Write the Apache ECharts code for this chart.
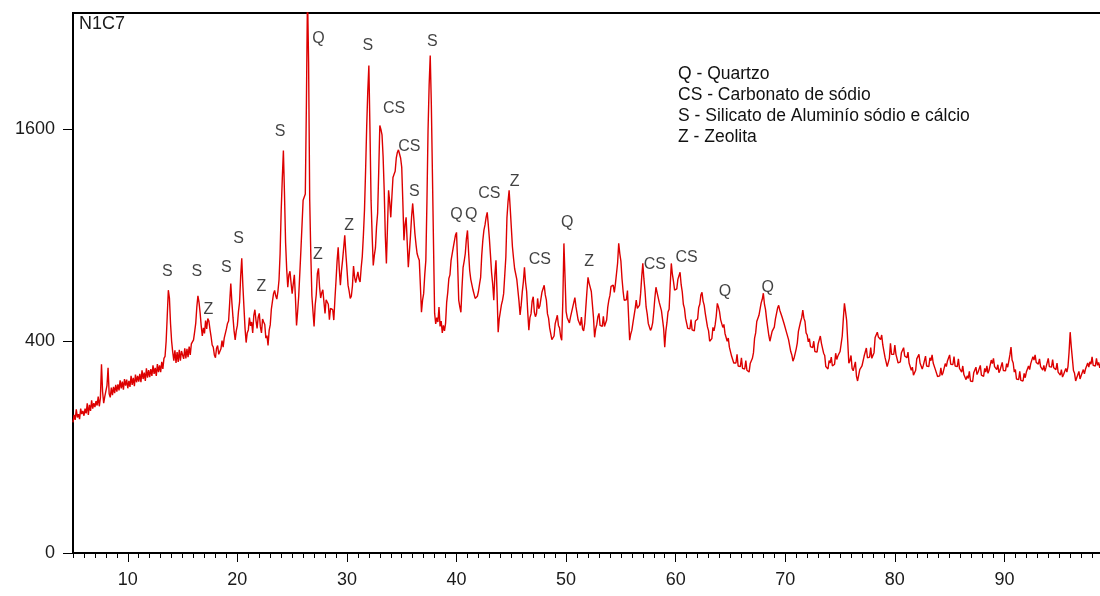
<!DOCTYPE html>
<html><head><meta charset="utf-8">
<script src="https://cdn.jsdelivr.net/npm/echarts@6/dist/echarts.min.js"></script>
<style>html,body{margin:0;padding:0;background:#fff}#c{width:1100px;height:596px}</style>
</head><body><div id="c"></div>
<script>
// ---- data ----
const sampleName = 'N1C7';
const scanStart = 5.0;   // 2θ (°) of first sample
const scanStep = 0.1;    // 2θ step (°)
// one row per degree: x.0 ... x.9
const counts = [
  152,170,158,184,164,172,160,186,172,180,   // 5
  168,186,174,200,170,196,180,208,186,200,   // 6
  190,206,194,218,192,214,318,232,200,218,   // 7
  214,250,306,226,216,244,222,246,228,252,   // 8
  232,254,236,266,242,262,238,270,250,268,   // 9
  242,264,246,280,252,274,248,284,260,280,   // 10
  262,286,260,298,270,290,264,304,274,298,   // 11
  276,302,280,314,286,306,280,318,292,314,   // 12
  292,326,302,338,345,400,500,616,580,470,   // 13
  400,360,330,366,322,360,326,368,330,364,   // 14
  368,336,374,338,372,342,380,350,390,386,   // 15
  405,436,470,540,590,560,515,460,420,452,   // 16
  430,482,448,490,480,446,418,386,378,350,   // 17
  340,374,384,352,362,372,402,378,412,414,   // 18
  448,470,480,560,648,560,495,440,405,440,   // 19
  462,520,560,680,775,640,540,450,395,432,   // 20
  444,494,460,476,432,504,528,482,450,496,   // 21
  512,456,432,488,476,466,412,422,384,442,   // 22
  464,530,565,600,615,590,575,610,665,800,   // 23
  1050,1250,1445,1150,860,720,630,690,708,650,   // 24
  600,646,690,580,462,520,590,700,820,960,   // 25
  1110,1120,1150,1800,2800,2150,1120,800,590,520,   // 26
  458,548,596,696,723,632,580,604,618,562,   // 27
  512,572,574,552,486,534,540,528,484,572,   // 28
  660,760,833,720,640,710,764,830,900,800,   // 29
  720,640,612,578,588,636,735,678,652,658,   // 30
  705,670,655,726,785,900,1047,1300,1615,1900,   // 31
  2120,1600,1109,900,738,790,830,950,1030,1300,   // 32
  1630,1600,1560,1400,1173,900,748,950,1173,1100,   // 33
  1005,1130,1258,1280,1300,1390,1431,1450,1420,1390,   // 34
  1326,1100,872,960,1005,860,728,810,900,1010,   // 35
  1090,1000,911,850,800,780,764,640,517,570,   // 36
  600,690,764,1100,1593,1950,2207,1800,1285,850,   // 37
  513,468,494,476,540,458,480,432,462,440,   // 38
  470,560,606,672,690,762,772,832,842,900,   // 39
  917,750,570,540,517,630,728,760,800,880,   // 40
  928,808,712,668,660,618,614,578,582,588,   // 41
  610,645,678,790,872,930,960,1005,1035,960,   // 42
  880,790,700,645,570,690,764,600,435,490,   // 43
  520,550,570,600,602,780,1000,1100,1173,1060,   // 44
  946,838,776,722,712,668,660,566,506,548,   // 45
  608,656,728,654,610,516,443,494,510,566,   // 46
  586,518,498,512,578,532,544,548,608,612,   // 47
  639,594,570,510,492,452,448,406,400,420,   // 48
  468,476,504,462,452,418,404,565,855,680,   // 49
  520,494,502,472,496,492,538,532,582,540,   // 50
  540,484,476,462,496,448,440,470,538,610,   // 51
  678,650,648,610,610,494,415,448,466,498,   // 52
  512,462,462,458,500,458,466,484,538,570,   // 53
  592,634,640,640,606,646,648,750,855,800,   // 54
  760,672,612,570,564,572,614,500,404,428,   // 55
  443,472,464,532,570,534,528,548,600,680,   // 56
  748,670,612,540,510,470,464,442,452,472,   // 57
  520,580,630,606,610,560,552,524,526,450,   // 58
  378,438,472,518,530,640,748,692,658,616,   // 59
  610,622,668,672,703,642,608,552,534,492,   // 60
  490,450,452,448,486,444,440,440,480,474,   // 61
  488,538,552,594,606,566,548,512,504,456,   // 62
  440,400,402,410,454,440,464,500,556,540,   // 63
  520,486,480,454,466,430,430,400,412,378,   // 64
  378,346,350,322,326,322,352,312,306,310,   // 65
  340,304,304,302,330,298,292,292,320,314,   // 66
  338,358,412,432,478,478,504,512,558,574,   // 67
  602,552,528,486,480,422,400,404,438,438,   // 68
  455,488,490,535,547,526,530,498,506,468,   // 69
  470,436,440,406,408,362,350,328,338,342,   // 70
  372,394,438,444,478,494,526,492,478,432,   // 71
  424,398,410,380,384,376,400,362,360,360,   // 72
  390,390,420,392,396,356,348,310,304,302,   // 73
  330,322,342,312,312,318,356,334,346,342,   // 74
  362,390,420,490,556,520,483,400,321,330,   // 75
  348,304,296,298,326,278,264,266,300,294,   // 76
  312,314,346,344,375,340,338,342,376,338,   // 77
  332,358,414,412,435,416,420,406,424,386,   // 78
  380,342,338,310,316,338,392,352,348,352,   // 79
  386,352,352,322,324,326,358,352,376,346,   // 80
  350,340,360,322,320,298,308,282,290,298,   // 81
  336,330,352,322,324,302,314,314,346,312,   // 82
  312,310,340,330,350,322,328,300,304,278,   // 83
  282,280,306,282,290,290,320,310,329,324,   // 84
  350,318,320,317,344,312,314,310,336,304,   // 85
  304,292,312,284,288,268,280,272,294,264,   // 86
  264,262,290,284,308,284,292,288,314,282,   // 87
  284,278,304,292,312,288,298,300,332,320,   // 88
  338,310,314,300,316,290,298,296,324,297,   // 89
  300,296,320,308,328,350,378,332,322,292,   // 90
  300,270,274,268,294,266,272,264,288,274,   // 91
  292,286,312,300,320,317,344,332,350,324,   // 92
  330,318,336,310,316,298,314,294,308,308,   // 93
  338,310,314,308,334,306,310,300,322,292,   // 94
  296,282,300,276,284,278,304,292,310,360,   // 95
  435,380,338,297,288,264,274,268,294,270,   // 96
  280,274,300,286,302,296,322,308,326,318,   // 97
  343,314,320,312,338,314,324,306,322,302,   // 98
  316,310,336,306,308,304,332,306,312,302,   // 99
  315                                        // 100
];
const xMajorTicks = [10, 20, 30, 40, 50, 60, 70, 80, 90];
const yTickLabels = [0, 400, 1600];
// phase annotations: text, 2θ position, intensity level
const annText   = ['S','S','Z','S','S','Z','S','Q','Z','Z','S','CS','CS','S','S','Q','Q','CS','Z','CS','Q','Z','CS','CS','Q','Q'];
const annTheta  = [13.6,16.3,17.35,19.0,20.1,22.2,23.9,27.4,27.35,30.2,31.9,34.3,35.7,36.15,37.8,40.0,41.35,43.0,45.3,47.6,50.1,52.1,58.1,61.0,64.5,68.4];
const annCounts = [708,708,530,728,883,634,1585,2360,796,958,2297,1762,1474,1166,2333,1023,1023,1153,1232,769,975,759,743,780,611,630];
const legendLines = ['Q - Quartzo','CS - Carbonato de sódio','S - Silicato de Aluminío sódio e cálcio','Z - Zeolita'];

// ---- chart ----
const FONT = "'Liberation Sans',Arial,sans-serif";
const seriesData = counts.map((c, i) => [+(scanStart + i * scanStep).toFixed(2), Math.sqrt(c)]);
const annData = annText.map((t, i) => ({ name: t, value: [annTheta[i], Math.sqrt(annCounts[i])] }));
const xMinorTicks = [];
for (let d = 5; d <= 100; d++) if (d % 10) xMinorTicks.push(d);
const ySqrtTicks = yTickLabels.map(v => Math.sqrt(v));

const chart = echarts.init(document.getElementById('c'), null, { renderer: 'canvas' });
chart.setOption({
  animation: false,
  backgroundColor: '#fff',
  grid: { left: 73, right: -14, top: 13, bottom: 43, outerBoundsMode: 'none', containLabel: false,
          show: true, borderColor: '#000', borderWidth: 2, backgroundColor: 'transparent' },
  xAxis: [
    { type: 'value', min: 5, max: 100, position: 'bottom',
      axisLine: { show: true, onZero: false, lineStyle: { color: '#000', width: 2 } },
      axisTick: { show: true, customValues: xMajorTicks, length: 9, lineStyle: { color: '#000', width: 1 } },
      axisLabel: { customValues: xMajorTicks, color: '#1a1a1a', fontSize: 18, margin: 18, fontFamily: FONT },
      splitLine: { show: false } },
    { type: 'value', min: 5, max: 100, position: 'bottom',
      axisLine: { show: false, onZero: false },
      axisTick: { show: true, customValues: xMinorTicks, length: 5, lineStyle: { color: '#000', width: 1 } },
      axisLabel: { show: false }, splitLine: { show: false } }
  ],
  yAxis: { type: 'value', min: 0, max: 51,
    axisLine: { show: true, lineStyle: { color: '#000', width: 2 } },
    axisTick: { show: true, customValues: ySqrtTicks, length: 10, lineStyle: { color: '#000', width: 1 } },
    axisLabel: { customValues: ySqrtTicks, formatter: v => String(Math.round(v * v)), color: '#1a1a1a', fontSize: 18, margin: 18, fontFamily: FONT },
    splitLine: { show: false } },
  graphic: [
    { type: 'text', left: 79, top: 15, style: { text: sampleName, font: '18px ' + FONT, fill: '#1a1a1a' } }
  ].concat(legendLines.map((t, i) => ({ type: 'text', left: 678, top: 65 + i * 21, style: { text: t, font: '17.5px ' + FONT, fill: '#111' } }))),
  series: [
    { type: 'line', data: seriesData, symbol: 'none', showSymbol: false, clip: true,
      lineStyle: { color: '#dd0000', width: 1.4 }, z: 2 },
    { type: 'scatter', data: annData, symbolSize: 1, itemStyle: { color: 'rgba(0,0,0,0)' }, silent: true, z: 3,
      label: { show: true, position: 'inside', formatter: '{b}', color: '#111', fontSize: 16, fontFamily: FONT } }
  ]
});
</script></body></html>
